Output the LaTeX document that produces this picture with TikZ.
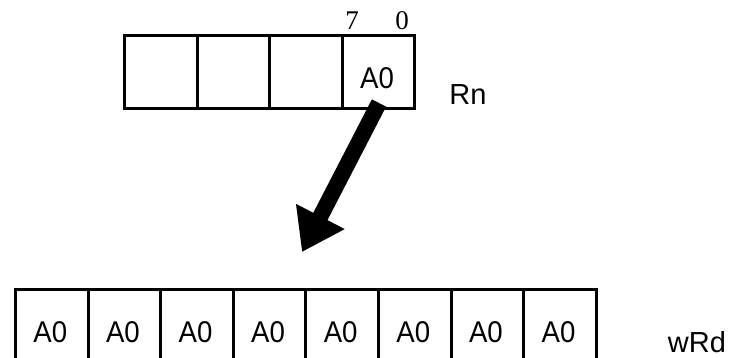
\documentclass[tikz,border=0pt]{standalone}
\usepackage{fontspec}
\setmainfont{Liberation Sans}
\newfontfamily\serifnum{Liberation Serif}
\newfontfamily\narrowsans[FakeStretch=0.92]{Liberation Sans}
\usetikzlibrary{arrows.meta}
\begin{document}
\begin{tikzpicture}[x=1pt,y=-1pt,
  cellbox/.style={draw=black,line width=3pt,minimum width=72.6pt,minimum height=73pt,inner sep=0pt,anchor=north west},
  celltxt/.style={font=\narrowsans\fontsize{30}{32}\selectfont,inner sep=0pt},
  lbl/.style={font=\fontsize{29}{31}\selectfont,inner sep=0pt},
  bitlbl/.style={font=\serifnum\fontsize{27}{29}\selectfont,inner sep=0pt},
  bigarrow/.style={line width=16pt,-{Triangle[length=40pt,width=52pt]}}]
\useasboundingbox (0,0) rectangle (729,357);
\begin{scope}
\clip (0,0) rectangle (729,357);
% top register
\foreach \i in {0,1,2,3} {
  \node[cellbox] (t\i) at ({123+72.6*\i},34) {};
}
\node[celltxt] (t3txt) at ({123+72.6*3.5},78) {A0};
% bottom register
\foreach \i in {0,...,7} {
  \node[cellbox,minimum height=76pt] (b\i) at ({14+72.6*\i},288) {};
  \node[celltxt] (b\i txt) at ({14+72.6*(\i+0.5)},332) {A0};
}
\end{scope}
\node[bitlbl] (seven) at (352,21) {7};
\node[bitlbl] (zero) at (402,21) {0};
\node[lbl] (rn) at (468,95) {Rn};
\node[lbl] (wrd) at (697,342) {wRd};
\coordinate (tail) at (379,103);
\coordinate (tip) at (302,252);
\draw[bigarrow] (tail) -- (tip);
\end{tikzpicture}
\end{document}
